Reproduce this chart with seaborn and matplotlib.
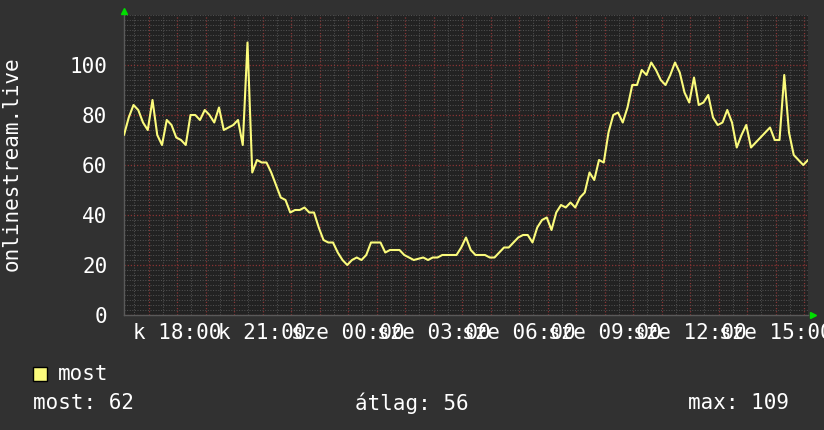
import matplotlib
matplotlib.use("Agg")
import matplotlib.pyplot as plt
import matplotlib.dates as mdates
from matplotlib.ticker import MultipleLocator, FuncFormatter
from matplotlib.patches import Rectangle
import pandas as pd
import seaborn as sns

# ---- data (10-minute samples) ----
values = [
    72, 79, 84, 82, 77, 74, 86, 72, 68, 78,
    76, 71, 70, 68, 80, 80, 78, 82, 80, 77,
    83, 74, 75, 76, 78, 68, 109, 57, 62, 61,
    61, 57, 52, 47, 46, 41, 42, 42, 43, 41,
    41, 35, 30, 29, 29, 25, 22, 20, 22, 23,
    22, 24, 29, 29, 29, 25, 26, 26, 26, 24,
    23, 22, 22.5, 23, 22, 23, 23, 24, 24, 24,
    24, 27, 31, 26, 24, 24, 24, 23, 23, 25,
    27, 27, 29, 31, 32, 32, 29, 35, 38, 39,
    34, 41, 44, 43, 45, 43, 47, 49, 57, 54,
    62, 61, 73, 80, 81, 77, 83, 92, 92, 98,
    96, 101, 98, 94, 92, 96, 101, 97, 89, 85,
    95, 84, 85, 88, 79, 76, 77, 82, 77, 67,
    72, 76, 67, 69, 71, 73, 75, 70, 70, 96,
    73, 64, 62, 60, 62,
]
start_time = "2024-03-05 16:08:25"
step_minutes = 10
series_label = "most"
ylabel_text = "onlinestream.live"
stat_labels = ["most", "átlag", "max"]
stat_values = [62, 56, 109]
weekday_abbr = ["h", "k", "sze", "cs", "p", "szo", "v"]
y_ticks = [0, 20, 40, 60, 80, 100]

# ---- style ----
OUTER = "#313131"
PLOT = "#222222"
LINE = "#fbfb7c"
GRID_MINOR = "#505050"
GRID_MAJOR = "#8a3434"
AXIS = "#5a5a5a"
TEXT = "#ffffff"
FS = 15

times = pd.date_range(start_time, periods=len(values), freq=f"{step_minutes}min")
df = pd.DataFrame({"time": times, "value": values})

sns.set_style("dark")
plt.rcParams["font.family"] = ["DejaVu Sans Mono", "DejaVu Sans"]

W, H = 824, 430
fig = plt.figure(figsize=(W / 100, H / 100), dpi=100, facecolor=OUTER)
ax = fig.add_axes([124 / W, 115 / H, 684 / W, 300 / H])
ax.set_facecolor(PLOT)

sns.lineplot(data=df, x="time", y="value", ax=ax, color=LINE, linewidth=1.5,
             legend=False, zorder=5)

ax.set_xlim(times[0], times[-1])
ax.set_ylim(0, 120)

ax.xaxis.set_major_locator(mdates.HourLocator(interval=1))
ax.xaxis.set_minor_locator(mdates.MinuteLocator(byminute=[30]))


def xfmt(x, pos):
    d = pd.Timestamp(mdates.num2date(x)).round("min")
    if d.hour % 3 == 0 and d.minute == 0:
        return f"{weekday_abbr[d.weekday()]} {d:%H:%M}"
    return ""


ax.xaxis.set_major_formatter(FuncFormatter(xfmt))
ax.yaxis.set_major_locator(MultipleLocator(20))
ax.yaxis.set_minor_locator(MultipleLocator(2))
ax.set_yticks(y_ticks)

ax.set_axisbelow(True)
ax.grid(which="minor", color=GRID_MINOR, linestyle=(0, (1, 1.5)), linewidth=0.75)
ax.grid(which="major", color=GRID_MAJOR, linestyle=(0, (1, 1.5)), linewidth=0.9)

ax.tick_params(axis="x", which="both", length=0, pad=6, labelsize=FS, labelcolor=TEXT)
ax.tick_params(axis="y", which="both", length=0, pad=12, labelsize=FS, labelcolor=TEXT)
ax.set_xlabel("")
ax.set_ylabel("")

for s in ["top", "right"]:
    ax.spines[s].set_visible(False)
for s in ["left", "bottom"]:
    ax.spines[s].set_color(AXIS)
    ax.spines[s].set_linewidth(1.0)

# axis arrows
ax.plot([0], [1.0133], marker="^", color="#00dd00", markersize=5,
        transform=ax.transAxes, clip_on=False, zorder=10)
ax.plot([1.0073], [0], marker=">", color="#00dd00", markersize=5,
        transform=ax.transAxes, clip_on=False, zorder=10)

# vertical title
fig.text(12 / W, 1 - 164 / H, ylabel_text, rotation=90, ha="center", va="center",
         color=TEXT, fontsize=FS)

# legend
fig.patches.append(Rectangle((33 / W, 1 - 381 / H), 14 / W, 14 / H,
                             transform=fig.transFigure, facecolor=LINE,
                             edgecolor="#000000", linewidth=1.0))
fig.text(58 / W, 1 - 374 / H, series_label, ha="left", va="center",
         color=TEXT, fontsize=FS)

# statistics row
stat_x = [33, 355, 688]
for (lbl, val, px) in zip(stat_labels, stat_values, stat_x):
    fig.text(px / W, 1 - 403 / H, f"{lbl}: {val}", ha="left", va="center",
             color=TEXT, fontsize=FS)

fig.savefig("out.png", dpi=100, facecolor=OUTER)
